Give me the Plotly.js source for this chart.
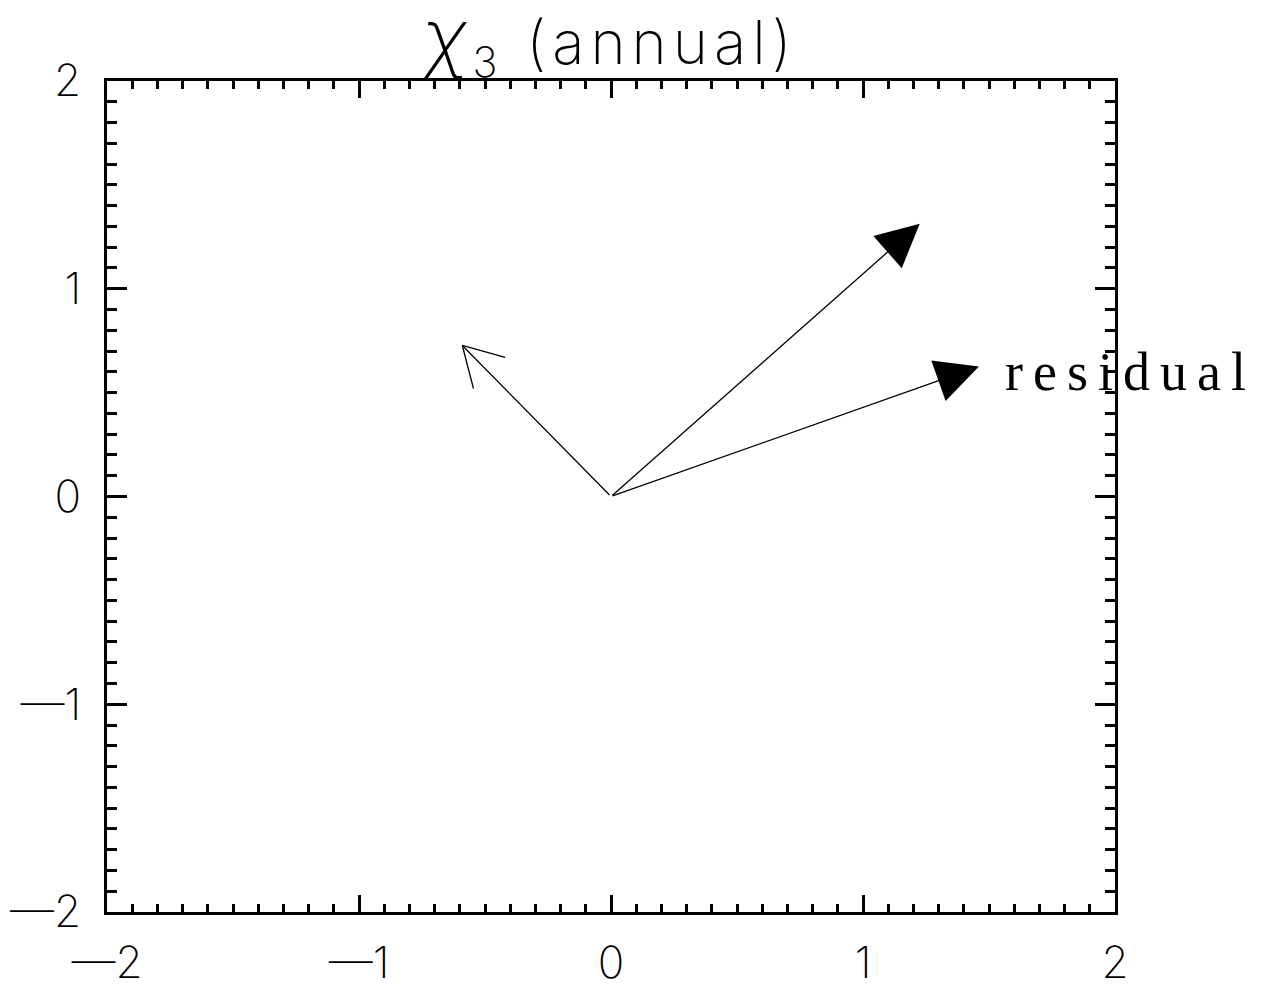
<!DOCTYPE html>
<html>
<head>
<meta charset="utf-8">
<script src="https://cdn.plot.ly/plotly-3.0.1.min.js"></script>
<style>
html,body{margin:0;padding:0;background:#fff;}
#chart{width:1263px;height:988px;}
.gtitle{letter-spacing:6px;}
.annotation-text{letter-spacing:10px;}
</style>
</head>
<body>
<div id="chart"></div>
<script>
// ---- data ----
const vectorNames = ['open', 'upper', 'residual'];
const vectorX = [-0.59, 1.225, 1.46];
const vectorY = [0.727, 1.313, 0.626];
const vectorHead = ['open', 'filled', 'filled'];
const labelText = ['', '', 'residual'];
const tickValues = [-2, -1, 0, 1, 2];
const tickLabels = ['\u20142', '\u20141', '0', '1', '2'];
const chartTitle = '<span style="font-style:italic;font-size:76px">\u03c7</span><sub>3</sub> (annual)';

// ---- layout geometry ----
const W = 1263, H = 988;
const margin = {l: 107, r: 148, t: 81, b: 76, pad: 0};
const xRange = [-2, 2], yRange = [-2, 2];
const plotW = W - margin.l - margin.r, plotH = H - margin.t - margin.b;
const sx = plotW / (xRange[1] - xRange[0]);
const sy = plotH / (yRange[1] - yRange[0]);

const annotations = [];
vectorX.forEach((vx, i) => {
  const vy = vectorY[i];
  const filled = vectorHead[i] === 'filled';
  annotations.push({
    x: vx, y: vy, xref: 'x', yref: 'y',
    ax: 0, ay: 0, axref: 'x', ayref: 'y',
    showarrow: true, text: '',
    arrowhead: filled ? 2 : 0,
    arrowwidth: 1.3, arrowsize: filled ? 6.6 : 1,
    arrowcolor: '#000', standoff: 0
  });
  if (!filled) {
    // open V-shaped head drawn as two barbs
    const px = vx * sx, py = -vy * sy;
    const L = Math.hypot(px, py);
    const bx = -px / L, by = -py / L;
    [30, -30].forEach(deg => {
      const a = deg * Math.PI / 180;
      const rx = bx * Math.cos(a) - by * Math.sin(a);
      const ry = bx * Math.sin(a) + by * Math.cos(a);
      annotations.push({
        x: vx, y: vy, xref: 'x', yref: 'y',
        ax: rx * 46, ay: ry * 46,
        showarrow: true, text: '', arrowhead: 0,
        arrowwidth: 1.3, arrowcolor: '#000', standoff: 0
      });
    });
  }
  if (labelText[i]) {
    annotations.push({
      x: vx, y: vy, xref: 'x', yref: 'y',
      showarrow: false, text: labelText[i],
      xanchor: 'left', yanchor: 'middle',
      xshift: 24, yshift: -6,
      font: {family: 'Liberation Serif, serif', size: 54, color: '#000'}
    });
  }
});

const thinFont = 'Inter, Liberation Sans, Arial, sans-serif';
const axisCommon = {
  showgrid: false, zeroline: false,
  showline: true, linewidth: 3, linecolor: '#000',
  mirror: 'allticks', ticks: 'inside', tickwidth: 3, tickcolor: '#000',
  tickmode: 'array', tickvals: tickValues, ticktext: tickLabels,
  tickfont: {family: thinFont, size: 44, color: '#000', weight: 200},
  fixedrange: true
};

const layout = {
  width: W, height: H, margin: margin,
  paper_bgcolor: '#fff', plot_bgcolor: '#fff',
  showlegend: false,
  title: {
    text: chartTitle, x: 0.5, xref: 'paper', xanchor: 'center',
    y: 0.956, yref: 'container', yanchor: 'middle',
    font: {family: thinFont, size: 60, color: '#000', weight: 200}
  },
  xaxis: Object.assign({}, axisCommon, {
    range: xRange, ticklen: 17,
    minor: {ticks: 'inside', dtick: 0.1, ticklen: 8, tickwidth: 3, tickcolor: '#000'},
    ticklabelstandoff: 10
  }),
  yaxis: Object.assign({}, axisCommon, {
    range: yRange, ticklen: 20,
    minor: {ticks: 'inside', dtick: 0.1, ticklen: 10, tickwidth: 3, tickcolor: '#000'},
    ticklabelstandoff: 14
  }),
  annotations: annotations
};

Plotly.newPlot('chart', [{x: [], y: [], type: 'scatter', mode: 'lines', hoverinfo: 'skip'}], layout,
  {staticPlot: true, displayModeBar: false});
</script>
</body>
</html>
